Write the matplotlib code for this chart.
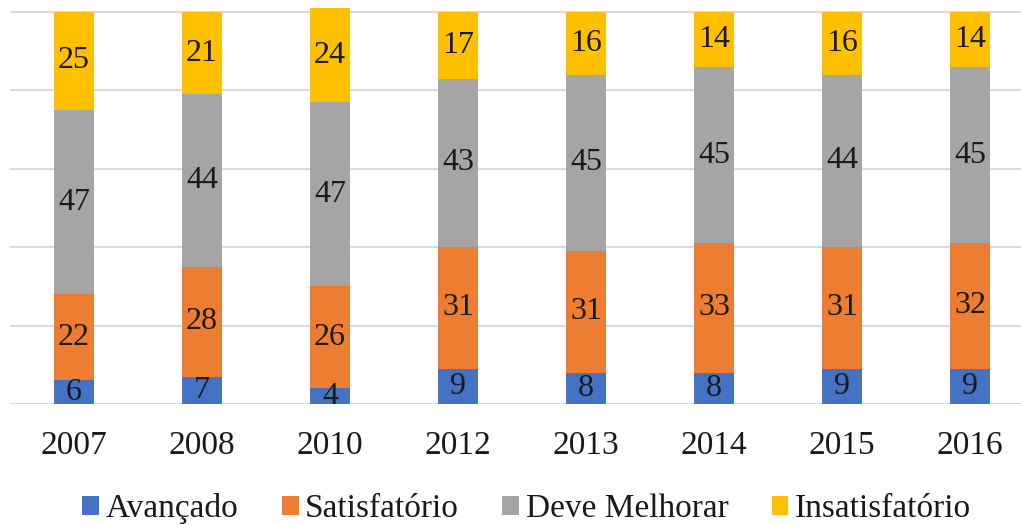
import matplotlib.pyplot as plt
import numpy as np

plt.rcParams['font.family'] = ['Liberation Serif', 'DejaVu Serif']

anos = ['2007', '2008', '2010', '2012', '2013', '2014', '2015', '2016']
avancado = [6, 7, 4, 9, 8, 8, 9, 9]
satisfatorio = [22, 28, 26, 31, 31, 33, 31, 32]
deve_melhorar = [47, 44, 47, 43, 45, 45, 44, 45]
insatisfatorio = [25, 21, 24, 17, 16, 14, 16, 14]

series = [('Avançado', avancado, '#4472C4'),
          ('Satisfatório', satisfatorio, '#ED7D31'),
          ('Deve Melhorar', deve_melhorar, '#A5A5A5'),
          ('Insatisfatório', insatisfatorio, '#FFC000')]

fig = plt.figure(figsize=(10.21, 5.25), dpi=100)
ax = fig.add_axes([10 / 1021, 121 / 525, 1011 / 1021, 403.8 / 525])

x = np.arange(len(anos))
bottom = np.zeros(len(anos))
for nome, vals, cor in series:
    vals = np.array(vals)
    bars = ax.bar(x, vals, width=0.32, bottom=bottom, color=cor, label=nome, zorder=2)
    for xi, b, v in zip(x, bottom, vals):
        ax.text(xi, b + v / 2, str(v), ha='center', va='center', fontsize=23,
                color='#1a1a1a', zorder=3)
    bottom += vals

ax.set_xlim(-0.5, -0.5 + 1011 / 128)
ax.set_ylim(0, 103)
ax.set_yticks([0, 20, 40, 60, 80, 100])
ax.yaxis.grid(True, color='#D9D9D9', linewidth=1.5, zorder=0)
ax.set_yticklabels([])
ax.tick_params(axis='y', length=0)
ax.set_xticks(x)
ax.set_xticklabels(anos, fontsize=24, color='#1a1a1a')
ax.tick_params(axis='x', length=0, pad=19)
for s in ax.spines.values():
    s.set_visible(False)

fig.legend(loc='center', bbox_to_anchor=(0.516, 0.031), ncol=4, frameon=False,
           fontsize=24, handlelength=0.5, handleheight=0.5, handletextpad=0.2,
           columnspacing=1.3, labelcolor='#1a1a1a')

fig.savefig('out.png', dpi=100)
